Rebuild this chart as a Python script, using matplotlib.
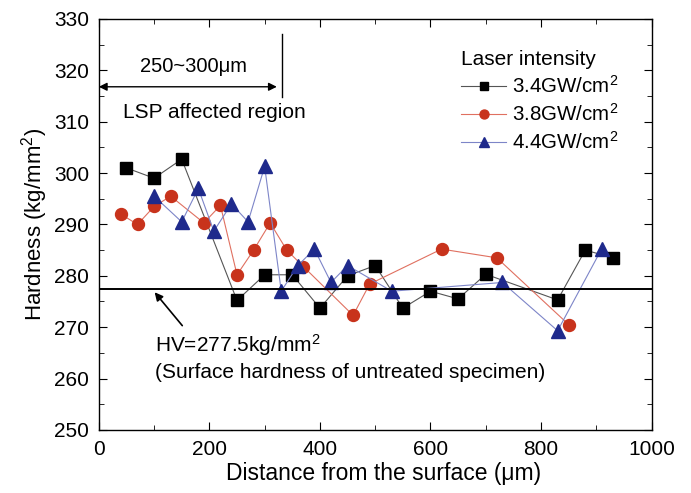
import matplotlib
matplotlib.use("Agg")
import matplotlib.pyplot as plt
from matplotlib.ticker import MultipleLocator

plt.rcParams["font.family"] = ["Liberation Sans", "DejaVu Sans"]
plt.rcParams["mathtext.fontset"] = "custom"
plt.rcParams["mathtext.rm"] = "Liberation Sans"
plt.rcParams["mathtext.it"] = "Liberation Sans:italic"

# 3.4 GW/cm2
x34 = [50, 100, 150, 250, 300, 350, 400, 450, 500, 550, 600, 650, 700, 830, 880, 930]
y34 = [301, 299, 302.7, 275.2, 280.2, 280.2, 273.7, 280, 282, 273.7, 277, 275.5, 280.3, 275.3, 285, 283.5]
# 3.8 GW/cm2
x38 = [40, 70, 100, 130, 190, 220, 250, 280, 310, 340, 370, 460, 490, 620, 720, 850]
y38 = [292, 290, 293.5, 295.5, 290.3, 293.7, 280.2, 285, 290.3, 285, 281.8, 272.3, 278.4, 285.2, 283.5, 270.5]
# 4.4 GW/cm2
x44 = [100, 150, 180, 208, 240, 270, 300, 330, 360, 390, 420, 450, 530, 730, 830, 910]
y44 = [295.5, 290.5, 297, 288.7, 294, 290.5, 301.3, 277, 282, 285.2, 278.7, 282, 277, 278.7, 269.3, 285.3]

hv = 277.5

fig = plt.figure(figsize=(6.91, 4.93), dpi=100)
ax = fig.add_axes([0.143, 0.128, 0.800, 0.8335])

ax.plot(x34, y34, color="#555555", lw=0.8, marker="s", ms=8.2, mfc="black", mec="black",
        label="3.4GW/cm$^2$")
ax.plot(x38, y38, color="#e07060", lw=0.8, marker="o", ms=8.6, mfc="#c8331c", mec="#c8331c",
        label="3.8GW/cm$^2$")
ax.plot(x44, y44, color="#7d85c8", lw=0.8, marker="^", ms=9.5, mfc="#1f2a8c", mec="#1f2a8c",
        label="4.4GW/cm$^2$")

ax.axhline(hv, color="black", lw=1.4)

# LSP affected region
ax.plot([331, 331], [314.8, 327.1], color="black", lw=1)
ax.annotate("", xy=(0, 316.8), xytext=(322, 316.8),
            arrowprops=dict(arrowstyle="<|-|>", color="black", lw=1, mutation_scale=12,
                            shrinkA=0, shrinkB=0))
ax.text(172, 320.7, "250~300μm", ha="center", va="center", fontsize=14.5)
ax.text(209, 311.7, "LSP affected region", ha="center", va="center", fontsize=15)

# HV annotation
ax.annotate("", xy=(101, 276.8), xytext=(151, 270.3),
            arrowprops=dict(arrowstyle="-|>", color="black", lw=1.2, mutation_scale=12,
                            shrinkA=0, shrinkB=0))
ax.text(101, 266.6, "HV=277.5kg/mm$^2$", ha="left", va="center", fontsize=15)
ax.text(101, 261.2, "(Surface hardness of untreated specimen)", ha="left", va="center", fontsize=15)

ax.set_xlim(0, 1000)
ax.set_ylim(250, 330)
ax.xaxis.set_major_locator(MultipleLocator(200))
ax.xaxis.set_minor_locator(MultipleLocator(100))
ax.yaxis.set_major_locator(MultipleLocator(10))
ax.yaxis.set_minor_locator(MultipleLocator(5))
ax.tick_params(which="both", direction="in", top=True, right=True, labelsize=15)
ax.tick_params(which="major", length=6)
ax.tick_params(which="minor", length=3.5)
ax.tick_params(axis="x", pad=7)
ax.tick_params(axis="y", pad=7)
for s in ax.spines.values():
    s.set_linewidth(1.0)

ax.set_xlabel("Distance from the surface (μm)", fontsize=16.5, labelpad=5)
ax.xaxis.set_label_coords(0.516, -0.105, transform=ax.transAxes)
ax.xaxis.label.set_va("center")
ax.set_ylabel("Hardness (kg/mm$^2$)", fontsize=16, labelpad=3)

leg = ax.legend(loc="upper left", bbox_to_anchor=(0.655, 0.925), frameon=False, fontsize=14.8,
                title="Laser intensity", title_fontsize=15, handlelength=2.2,
                handletextpad=0.3, labelspacing=0.3, borderaxespad=0, borderpad=0,
                markerscale=0.75)
leg._legend_box.align = "left"

fig.savefig("out.png", dpi=100)
